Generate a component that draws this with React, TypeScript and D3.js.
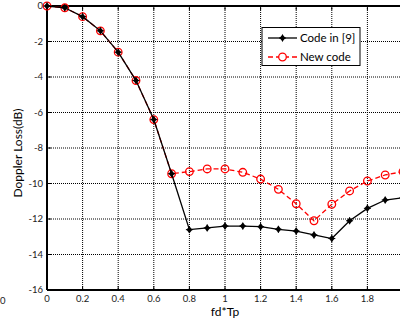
import React from "react";
import * as d3 from "d3";

const xValues = [0, 0.1, 0.2, 0.3, 0.4, 0.5, 0.6, 0.7, 0.8, 0.9, 1.0, 1.1, 1.2, 1.3, 1.4, 1.5, 1.6, 1.7, 1.8, 1.9, 2.0];
const codeIn9 = [0, -0.1, -0.6, -1.4, -2.6, -4.2, -6.4, -9.45, -12.6, -12.5, -12.4, -12.4, -12.43, -12.58, -12.68, -12.9, -13.1, -12.1, -11.4, -10.93, -10.8];
const newCode = [0, -0.1, -0.6, -1.4, -2.6, -4.2, -6.4, -9.45, -9.33, -9.18, -9.18, -9.37, -9.75, -10.33, -11.14, -12.1, -11.17, -10.42, -9.86, -9.52, -9.33];
const xTicks = [0, 0.2, 0.4, 0.6, 0.8, 1, 1.2, 1.4, 1.6, 1.8];
const yTicks = [0, -2, -4, -6, -8, -10, -12, -14, -16];
const legendLabels = ["Code in [9]", "New code"];

const FONT = "Lato, 'Open Sans', sans-serif";

export default function App() {
  const W = 400, H = 324;
  const left = 47, top = 6, bottom = 290;
  const x = d3.scaleLinear().domain([0, 2]).range([left, left + 356]);
  const y = d3.scaleLinear().domain([-16, 0]).range([bottom, top]);
  const line = d3.line<number>().x((_, i) => x(xValues[i])).y((d) => y(d));
  const right = W + 20;

  const diamond = (cx: number, cy: number, key: string) => (
    <g key={key}>
      <path d={`M${cx},${cy - 3.5}L${cx + 3},${cy}L${cx},${cy + 3.5}L${cx - 3},${cy}Z`} fill="#000" />
      <path d={`M${cx - 3.5},${cy}H${cx + 3.5}M${cx},${cy - 3.5}V${cy + 3.5}`} stroke="#000" strokeWidth={1} />
    </g>
  );

  return (
    <div style={{ position: "absolute", left: 0, top: 0 }}>
      <svg width={W} height={H} style={{ display: "block", background: "#fff" }}>
        <rect x={0} y={0} width={W} height={H} fill="#fff" />
        {/* grid */}
        {xTicks.filter((t) => t > 0).map((t) => (
          <line key={"gx" + t} x1={x(t)} x2={x(t)} y1={top} y2={bottom} stroke="#000" strokeWidth={1} strokeDasharray="1,1" />
        ))}
        {yTicks.filter((t) => t > -16 && t < 0).map((t) => (
          <line key={"gy" + t} x1={left} x2={right} y1={y(t)} y2={y(t)} stroke="#000" strokeWidth={1} strokeDasharray="1,1" />
        ))}
        {/* axes */}
        <line x1={left} x2={right} y1={top} y2={top} stroke="#000" strokeWidth={2} />
        <line x1={left} x2={right} y1={bottom} y2={bottom} stroke="#000" strokeWidth={2} />
        <line x1={left} x2={left} y1={top} y2={bottom} stroke="#000" strokeWidth={2} />
        {xTicks.map((t) => (
          <g key={"tx" + t}>
            <line x1={x(t)} x2={x(t)} y1={bottom} y2={bottom - 4} stroke="#000" />
            <line x1={x(t)} x2={x(t)} y1={top} y2={top + 4} stroke="#000" />
            <text x={x(t)} y={bottom + 12} textAnchor="middle" fontSize={9.5} fontFamily={FONT} fill="#222">{t}</text>
          </g>
        ))}
        {yTicks.map((t) => (
          <g key={"ty" + t}>
            <line x1={left} x2={left + 4} y1={y(t)} y2={y(t)} stroke="#000" />
            <text x={left - 4} y={y(t) + 3} textAnchor="end" fontSize={9.5} fontFamily={FONT} fill="#222">{t}</text>
          </g>
        ))}
        {/* series */}
        <path d={line(newCode) || ""} fill="none" stroke="#ff0000" strokeWidth={1.3} strokeDasharray="5,3" />
        {newCode.map((v, i) => (
          <circle key={"r" + i} cx={x(xValues[i])} cy={y(v)} r={3.8} fill="none" stroke="#ff0000" strokeWidth={1.3} />
        ))}
        <path d={line(codeIn9) || ""} fill="none" stroke="#000" strokeWidth={1.3} />
        {codeIn9.map((v, i) => diamond(x(xValues[i]), y(v), "b" + i))}
        {/* legend */}
        <rect x={262} y={27.5} width={98} height={38} fill="#fff" stroke="#000" strokeWidth={1} />
        <line x1={268} x2={297} y1={38} y2={38} stroke="#000" strokeWidth={1.3} />
        {diamond(282.5, 38, "ld")}
        <text x={300} y={42} fontSize={11.5} fontFamily={FONT} fill="#000">{legendLabels[0]}</text>
        <line x1={268} x2={297} y1={57} y2={57} stroke="#ff0000" strokeWidth={1.3} strokeDasharray="5,3" />
        <circle cx={282.5} cy={57} r={3.8} fill="#fff" stroke="#ff0000" strokeWidth={1.3} />
        <text x={300} y={61} fontSize={11.5} fontFamily={FONT} fill="#000">{legendLabels[1]}</text>
        {/* labels */}
        <text x={225} y={316} textAnchor="middle" fontSize={12} fontFamily={FONT} fill="#000">fd*Tp</text>
        <text transform={`translate(22,153) rotate(-90)`} textAnchor="middle" fontSize={12} fontFamily={FONT} fill="#000">Doppler Loss(dB)</text>
        <text x={0} y={304} fontSize={9.5} fontFamily={FONT} fill="#222">0</text>
      </svg>
    </div>
  );
}
